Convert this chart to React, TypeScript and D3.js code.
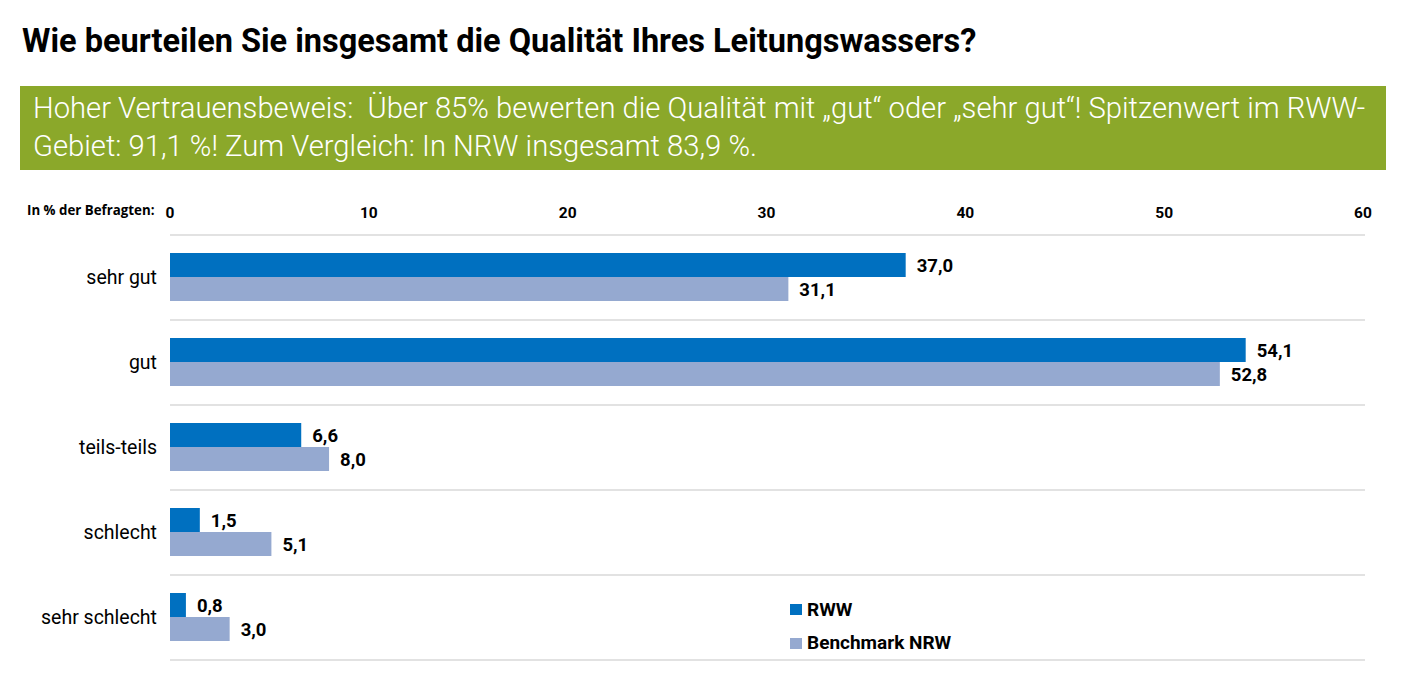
import React from "react";
import * as d3 from "d3";

const categories = ["sehr gut", "gut", "teils-teils", "schlecht", "sehr schlecht"];
const rwwValues = [37.0, 54.1, 6.6, 1.5, 0.8];
const nrwValues = [31.1, 52.8, 8.0, 5.1, 3.0];
const tickValues = [0, 10, 20, 30, 40, 50, 60];
const seriesNames = ["RWW", "Benchmark NRW"];
const seriesColors = ["#0070C0", "#95A9D0"];
const title = "Wie beurteilen Sie insgesamt die Qualität Ihres Leitungswassers?";
const bannerLines = [
  "Hoher Vertrauensbeweis:  Über 85% bewerten die Qualität mit „gut“ oder „sehr gut“! Spitzenwert im RWW-",
  "Gebiet: 91,1 %! Zum Vergleich: In NRW insgesamt 83,9 %.",
];
const axisCaption = "In % der Befragten:";

const fmt = (v: number) => v.toFixed(1).replace(".", ",");

export default function App() {
  const W = 1404;
  const H = 680;
  const x = d3.scaleLinear().domain([0, 60]).range([170, 1363]);
  const y = d3.scaleBand<string>().domain(categories).range([235, 660]);
  const bw = y.bandwidth();
  const barH = 24;
  const off = 18;
  const font = "Roboto, 'Noto Sans', sans-serif";

  return (
    <div style={{ position: "absolute", left: 0, top: 0 }}>
      <svg width={W} height={H} style={{ display: "block" }} fontFamily={font}>
        <rect x={0} y={0} width={W} height={H} fill="#fff" />
        <text x={22} y={52} fontSize={32.5} fontWeight={700} fill="#000">
          {title}
        </text>
        <rect x={20} y={86} width={1366} height={84} fill="#8BA82A" />
        {bannerLines.map((l, i) => (
          <text key={i} x={33} y={118 + i * 38} fontSize={29.2} fontWeight={300} fill="#fff" style={{ whiteSpace: "pre" }}>
            {l}
          </text>
        ))}
        <text x={27} y={215} fontSize={13.3} fontWeight={700} fill="#000" fontFamily="'Open Sans', sans-serif">
          {axisCaption}
        </text>
        {tickValues.map((t) => (
          <text key={t} x={x(t)} y={218} fontSize={15.5} fontWeight={700} textAnchor="middle" fill="#000">
            {t}
          </text>
        ))}
        {[...categories.map((c) => y(c)!), 660].map((gy, i) => (
          <line key={i} x1={170} x2={1365} y1={gy} y2={gy} stroke="#D9D9D9" strokeWidth={1.5} />
        ))}
        {categories.map((c, i) => {
          const y0 = y(c)!;
          return (
            <g key={c}>
              <text x={157} y={y0 + bw / 2} fontSize={19.5} textAnchor="end" dominantBaseline="central" fill="#000">
                {c}
              </text>
              {[rwwValues[i], nrwValues[i]].map((v, s) => {
                const by = y0 + off + s * barH;
                return (
                  <g key={s}>
                    <rect x={x(0)} y={by} width={x(v) - x(0)} height={barH} fill={seriesColors[s]} />
                    <text
                      x={x(v) + 11}
                      y={by + barH / 2 + 1}
                      fontSize={18.5}
                      fontWeight={700}
                      dominantBaseline="central"
                      fill="#000"
                    >
                      {fmt(v)}
                    </text>
                  </g>
                );
              })}
            </g>
          );
        })}
        {seriesNames.map((n, i) => (
          <g key={n}>
            <rect x={790} y={604 + i * 34} width={12} height={11} fill={seriesColors[i]} />
            <text x={807} y={616 + i * 33} fontSize={19} fontWeight={700} fill="#000">
              {n}
            </text>
          </g>
        ))}
      </svg>
    </div>
  );
}
